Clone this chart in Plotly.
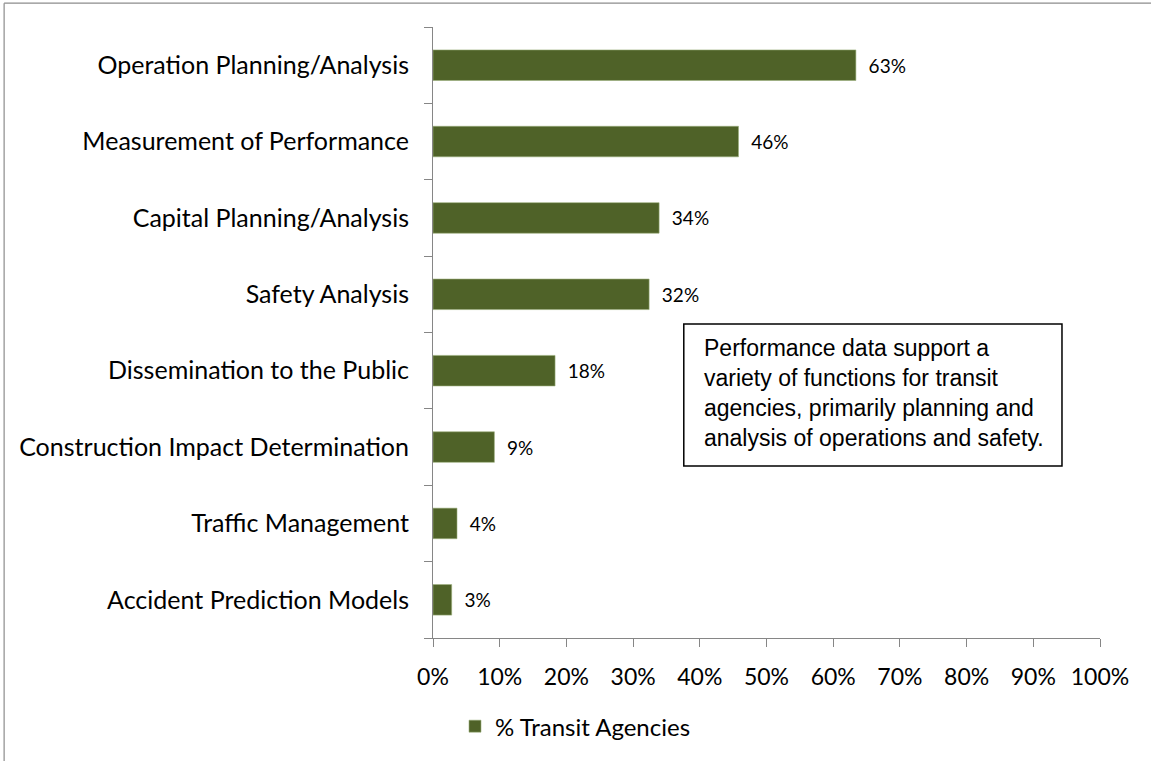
import plotly.graph_objects as go

categories = [
    "Operation Planning/Analysis",
    "Measurement of Performance",
    "Capital Planning/Analysis",
    "Safety Analysis",
    "Dissemination to the Public",
    "Construction Impact Determination",
    "Traffic Management",
    "Accident Prediction Models",
]
values = [63.4, 45.8, 33.9, 32.4, 18.3, 9.2, 3.6, 2.8]
series_name = "% Transit Agencies"
x_ticks = list(range(0, 101, 10))
x_tick_labels = [f"{v}%" for v in x_ticks]
note_lines = [
    "Performance data support a",
    "variety of functions for transit",
    "agencies, primarily planning and",
    "analysis of operations and safety.",
]

BAR = "#4F6228"
AXIS = "#868686"
FONT = "Lato, Calibri, sans-serif"

fig = go.Figure()
fig.add_trace(go.Bar(
    y=categories,
    x=values,
    orientation="h",
    name=series_name,
    marker=dict(color=BAR, line=dict(color="#9BAF7A", width=0.6)),
    texttemplate="\u00a0\u00a0%{x:.0f}%",
    textposition="outside",
    textfont=dict(family=FONT, size=19, color="#000000"),
    cliponaxis=False,
    showlegend=True,
))

fig.update_layout(
    width=1151,
    height=761,
    margin=dict(l=433, r=51, t=27, b=123),
    paper_bgcolor="white",
    plot_bgcolor="white",
    bargap=0.6,
    font=dict(family=FONT, size=24, color="#000000"),
    showlegend=True,
    legend=dict(
        orientation="h",
        x=0.033, xanchor="left",
        y=-0.145, yanchor="middle",
        font=dict(family=FONT, size=24, color="#000000"),
        itemwidth=30,
        bgcolor="rgba(0,0,0,0)",
    ),
    xaxis=dict(
        range=[0, 100],
        tickvals=x_ticks,
        ticktext=x_tick_labels,
        showgrid=False,
        zeroline=False,
        showline=True,
        linecolor=AXIS,
        linewidth=1,
        ticks="outside",
        ticklen=8,
        tickcolor=AXIS,
        tickfont=dict(family=FONT, size=23),
        ticklabelstandoff=10,
    ),
    yaxis=dict(
        categoryorder="array",
        categoryarray=categories[::-1],
        autorange=False,
        range=[-0.5, len(categories) - 0.5],
        showgrid=False,
        zeroline=False,
        showline=True,
        linecolor=AXIS,
        linewidth=1,
        ticks="outside",
        tickson="boundaries",
        ticklen=8,
        tickcolor=AXIS,
        tickfont=dict(family=FONT, size=25),
        ticklabelstandoff=18,
    ),
    shapes=[
        # outer chart frame: top and left edges (others lie outside the view)
        dict(type="line", xref="paper", yref="paper",
             x0=-0.643, x1=1.2, y0=1.039, y1=1.039,
             line=dict(color="#8C8C8C", width=1.2), layer="below"),
        dict(type="line", xref="paper", yref="paper",
             x0=-0.643, x1=-0.643, y0=-0.3, y1=1.039,
             line=dict(color="#8C8C8C", width=1.2), layer="below"),
        # note box
        dict(type="rect", xref="paper", yref="paper",
             x0=0.376, x1=0.943, y0=0.2815, y1=0.514,
             line=dict(color="#000000", width=1.5), fillcolor="white"),
    ],
    annotations=[
        dict(xref="paper", yref="paper", x=0.403, y=0.499,
             xanchor="left", yanchor="top", align="left", showarrow=False,
             text="<br>".join(note_lines),
             font=dict(family="Liberation Sans, Arial, sans-serif", size=23, color="#000000")),
    ],
)

fig.write_html(
    "out.html",
    config={"displayModeBar": False},
    post_script="document.body.style.margin='0';document.body.style.overflow='hidden';"
                "document.documentElement.style.overflow='hidden';",
)
